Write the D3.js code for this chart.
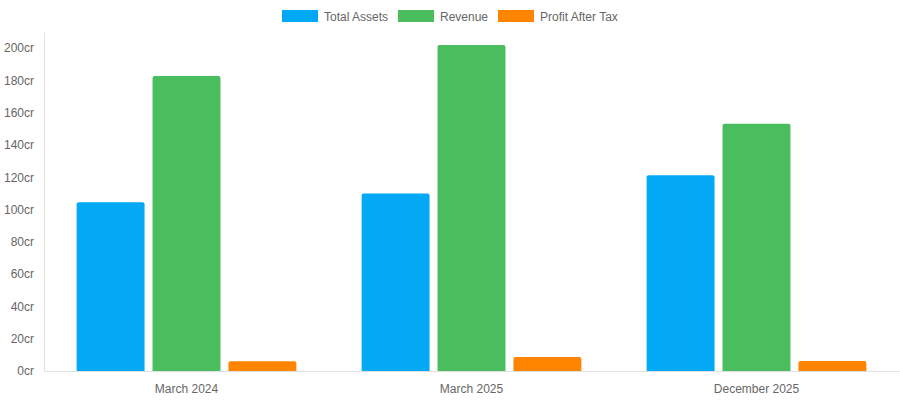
<!DOCTYPE html>
<html>
<head>
<meta charset="utf-8">
<script src="https://cdn.jsdelivr.net/npm/d3@7"></script>
<style>
  body { margin: 0; background: #fff; }
  svg text { font-family: "Liberation Sans", Arial, Helvetica, sans-serif; }
</style>
</head>
<body>
<svg id="chart" width="900" height="400"></svg>
<script>
const periods = ['March 2024', 'March 2025', 'December 2025']
const seriesNames = ['Total Assets', 'Revenue', 'Profit After Tax']
const totalAssets = [104.5, 110, 121.2]
const revenue = [182.7, 201.9, 153.1]
const profitAfterTax = [6, 8.7, 6.2]
const yTicks = [0, 20, 40, 60, 80, 100, 120, 140, 160, 180, 200]
const colors = ['#03a9f4', '#4abd5e', '#ff8400']

const allSeries = [totalAssets, revenue, profitAfterTax]

const svg = d3.select('#chart')
const margin = { top: 32, right: 1, bottom: 29, left: 44 }
const width = 900 - margin.left - margin.right
const height = 400 - margin.top - margin.bottom

const x = d3.scaleBand().domain(periods).range([margin.left, margin.left + width]).paddingInner(0).paddingOuter(0)
const xInner = d3.scaleBand().domain(seriesNames).range([0, x.bandwidth()]).paddingInner(0.105).paddingOuter(0.43)
const y = d3.scaleLinear().domain([0, 210]).range([margin.top + height, margin.top])

// axes
const yAxis = svg.append('g')
  .attr('transform', `translate(${margin.left},0)`)
  .call(d3.axisLeft(y).tickValues(yTicks).tickSize(0).tickPadding(10).tickFormat(d => d + 'cr'))
yAxis.select('.domain').attr('stroke', '#e0e0e0')
yAxis.selectAll('text').attr('fill', '#666').style('font-size', '12px')

const xAxis = svg.append('g')
  .attr('transform', `translate(0,${margin.top + height})`)
  .call(d3.axisBottom(x).tickSize(0).tickPadding(13))
xAxis.select('.domain').attr('stroke', '#e0e0e0')
xAxis.selectAll('text').attr('fill', '#666').style('font-size', '12px')

// bars
seriesNames.forEach((name, si) => {
  svg.append('g').selectAll('path')
    .data(periods)
    .join('path')
    .attr('fill', colors[si])
    .attr('d', (p, i) => {
      const x0 = x(p) + xInner(name)
      const w = xInner.bandwidth()
      const y0 = y(allSeries[si][i])
      const y1 = y(0)
      const r = 2
      return `M${x0},${y1}V${y0 + r}Q${x0},${y0} ${x0 + r},${y0}H${x0 + w - r}Q${x0 + w},${y0} ${x0 + w},${y0 + r}V${y1}Z`
    })
})

// legend
const legend = svg.append('g')
const legendX = [282, 398, 498]
seriesNames.forEach((name, i) => {
  const g = legend.append('g').attr('transform', `translate(${legendX[i]},10)`)
  g.append('rect').attr('width', 36).attr('height', 12).attr('fill', colors[i])
  g.append('text').attr('x', 42).attr('y', 10.5).attr('fill', '#666').style('font-size', '12px').text(name)
})
</script>
</body>
</html>
